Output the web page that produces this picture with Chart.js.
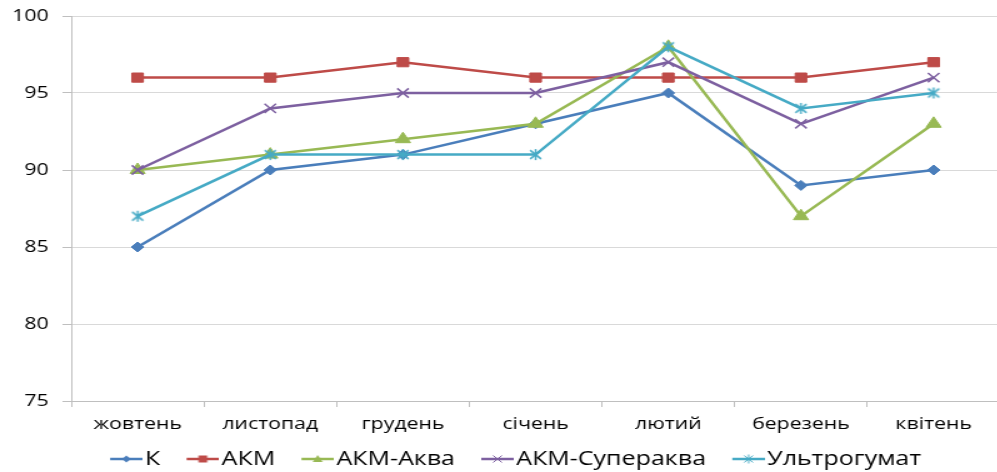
<!DOCTYPE html>
<html>
<head>
<meta charset="utf-8">
<script src="https://cdn.jsdelivr.net/npm/chart.js@4/dist/chart.umd.min.js"></script>
<style>
  html, body { margin: 0; padding: 0; background: #fff; overflow: hidden; width: 997px; height: 472px; }
  #chart { display: block; transform: scaleX(1.25); transform-origin: 0 0; }
</style>
</head>
<body>
<canvas id="chart" width="808" height="479"></canvas>
<script>
// Months of the observation period
const months = ['жовтень', 'листопад', 'грудень', 'січень', 'лютий', 'березень', 'квітень'];

// Series names
const seriesNames = ['К', 'АКМ', 'АКМ-Аква', 'АКМ-Супераква', 'Ультрогумат'];

// Values per series
const valuesK = [85, 90, 91, 93, 95, 89, 90];
const valuesAKM = [96, 96, 97, 96, 96, 96, 97];
const valuesAkva = [90, 91, 92, 93, 98, 87, 93];
const valuesSuperakva = [90, 94, 95, 95, 97, 93, 96];
const valuesUltrogumat = [87, 91, 91, 91, 98, 94, 95];

// Value axis ticks
const yTicks = [75, 80, 85, 90, 95, 100];

const colors = ['#4a7ebb', '#be4b48', '#98b954', '#7d60a0', '#46aac5'];
const FONT = '"Open Sans", "Noto Sans", sans-serif';

// Asterisk marker: an X with a vertical stroke
function asteriskMarker(color, size, lw) {
  const c = document.createElement('canvas');
  c.width = size; c.height = size;
  const g = c.getContext('2d');
  g.strokeStyle = color; g.lineWidth = lw;
  const m = size / 2, r = size / 2 - 1, d = r * 0.8;
  g.beginPath();
  g.moveTo(m - d, m - d); g.lineTo(m + d, m + d);
  g.moveTo(m + d, m - d); g.lineTo(m - d, m + d);
  g.moveTo(m, m - r); g.lineTo(m, m + r);
  g.stroke();
  return c;
}

// Legend icon: short line with a small marker, sitting in the right part
// of the image so that it ends just before the label text
const ICON_W = 41, LINE_LEN = 26;
function legendIcon(color, shape) {
  const h = 12;
  const c = document.createElement('canvas');
  c.width = ICON_W; c.height = h;
  const g = c.getContext('2d');
  const x0 = ICON_W - LINE_LEN;
  const cx = x0 + LINE_LEN / 2, cy = h / 2;
  g.strokeStyle = color; g.fillStyle = color; g.lineWidth = 2.5;
  g.beginPath(); g.moveTo(x0, cy); g.lineTo(ICON_W, cy); g.stroke();
  g.lineWidth = 1;
  g.beginPath();
  if (shape === 'diamond') {
    g.moveTo(cx, cy - 3.5); g.lineTo(cx + 3.5, cy); g.lineTo(cx, cy + 3.5); g.lineTo(cx - 3.5, cy); g.closePath(); g.fill();
  } else if (shape === 'square') {
    g.rect(cx - 3.5, cy - 3.5, 7, 7); g.fill();
  } else if (shape === 'triangle') {
    g.moveTo(cx, cy - 4); g.lineTo(cx + 4, cy + 3); g.lineTo(cx - 4, cy + 3); g.closePath(); g.fill();
  } else if (shape === 'x') {
    g.moveTo(cx - 3.5, cy - 3.5); g.lineTo(cx + 3.5, cy + 3.5);
    g.moveTo(cx + 3.5, cy - 3.5); g.lineTo(cx - 3.5, cy + 3.5); g.stroke();
  } else if (shape === 'asterisk') {
    g.moveTo(cx - 3.5, cy - 3.5); g.lineTo(cx + 3.5, cy + 3.5);
    g.moveTo(cx + 3.5, cy - 3.5); g.lineTo(cx - 3.5, cy + 3.5);
    g.moveTo(cx, cy - 4.5); g.lineTo(cx, cy + 4.5); g.stroke();
  }
  return c;
}

const legendIcons = [
  legendIcon(colors[0], 'diamond'),
  legendIcon(colors[1], 'square'),
  legendIcon(colors[2], 'triangle'),
  legendIcon(colors[3], 'x'),
  legendIcon(colors[4], 'asterisk')
];

const allValues = [valuesK, valuesAKM, valuesAkva, valuesSuperakva, valuesUltrogumat];
const markerStyles = ['rectRot', 'rect', 'triangle', 'crossRot', asteriskMarker(colors[4], 13, 1.5)];
const markerRadius = [5, 6.5, 7, 6.5, 6.5];

const datasets = allValues.map((vals, i) => ({
  label: seriesNames[i],
  data: vals,
  borderColor: colors[i],
  backgroundColor: colors[i],
  borderWidth: 2.5,
  tension: 0,
  pointStyle: markerStyles[i],
  pointRadius: markerRadius[i],
  pointBorderWidth: i === 3 ? 1.5 : 1,
  pointBorderColor: colors[i],
  pointBackgroundColor: colors[i],
  order: allValues.length - i
}));

// Nudge the legend row a little to the right of the canvas centre
const legendShift = {
  id: 'legendShift',
  afterLayout(chart) {
    if (chart.legend) { chart.legend.left += 8; chart.legend.right += 8; }
  }
};

new Chart(document.getElementById('chart'), {
  type: 'line',
  data: { labels: months, datasets },
  plugins: [legendShift],
  options: {
    responsive: false,
    animation: false,
    events: [],
    layout: { padding: { left: 0, right: 6, top: 16, bottom: 0 } },
    plugins: {
      tooltip: { enabled: false },
      legend: {
        position: 'bottom',
        labels: {
          usePointStyle: true,
          pointStyleWidth: 25,
          padding: 14,
          color: '#000',
          font: { family: FONT, size: 20 },
          sort: (a, b) => a.datasetIndex - b.datasetIndex,
          generateLabels(chart) {
            const items = Chart.defaults.plugins.legend.labels.generateLabels(chart);
            items.forEach(it => { it.pointStyle = legendIcons[it.datasetIndex]; });
            return items;
          }
        }
      }
    },
    scales: {
      x: {
        offset: true,
        afterFit(scale) { scale.height = 34; },
        grid: { drawOnChartArea: false, drawTicks: true, tickLength: 6, color: '#bfbfbf', offset: true },
        border: { display: true, color: '#bfbfbf' },
        ticks: { color: '#000', padding: 7, maxRotation: 0, font: { family: FONT, size: 17 } }
      },
      y: {
        min: yTicks[0],
        max: yTicks[yTicks.length - 1],
        afterFit(scale) { scale.width = 57; scale.paddingTop = 0; scale.paddingBottom = 0; },
        afterBuildTicks(scale) { scale.ticks = yTicks.map(v => ({ value: v })); },
        grid: { color: '#d9d9d9', tickColor: '#bfbfbf', tickLength: 7 },
        border: { display: true, color: '#bfbfbf' },
        ticks: { color: '#000', padding: 11, font: { family: FONT, size: 17 } }
      }
    }
  }
});
</script>
</body>
</html>
